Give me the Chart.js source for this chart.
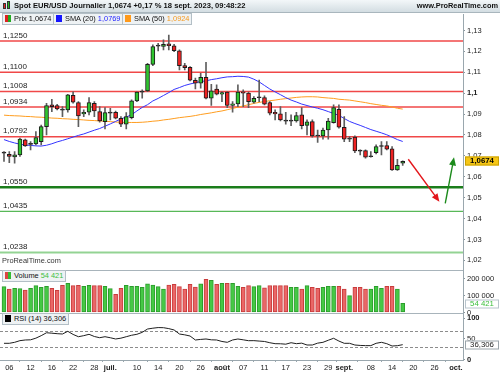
<!DOCTYPE html>
<html lang="fr">
<head>
<meta charset="utf-8">
<script src="https://cdn.jsdelivr.net/npm/chart.js@4.4.1/dist/chart.umd.min.js"></script>
<style>
  body { margin: 0; background: #fff; font-family: "Liberation Sans", Arial, sans-serif; }
  #wrap { position: relative; width: 500px; height: 375px; overflow: hidden; }
  #chart { position: absolute; left: 0; top: 0; }
  .top { position: absolute; left: 0; top: 0; width: 500px; height: 12px; background: linear-gradient(#f3f7f9, #d3dde2); border-bottom: 1px solid #a9b6bd; }
  .title { position: absolute; left: 14px; top: 0; font-size: 7.6px; font-weight: bold; line-height: 12px; color: #111; white-space: nowrap; }
  .site { position: absolute; right: 2px; top: 0; font-size: 7.4px; font-weight: bold; line-height: 12px; color: #111; }
  .ico { position: absolute; left: 2px; top: 1px; width: 10px; height: 10px; }
  .ico i { position: absolute; width: 3px; border: 1px solid #333; box-sizing: border-box; }
  .box { position: absolute; height: 10px; border: 1px solid #b3bfc6; background: #eef2f4; font-size: 7.4px; line-height: 10px; color: #111; white-space: nowrap; padding-right: 2px; }
  .sq { display: inline-block; width: 6px; height: 7px; margin: 0 3px 0 2px; vertical-align: -1px; }
  .wm { position: absolute; left: 2px; top: 256px; font-size: 7.4px; color: #333; }
</style>
</head>
<body>
<div id="wrap">
  <canvas id="chart" width="500" height="375"></canvas>
  <div class="top">
    <div class="ico"><i style="left:1px;top:2px;height:6px;background:#e22"></i><i style="left:5px;top:0;height:8px;background:#2b2"></i></div>
    <div class="title">Spot EUR/USD Journalier 1,0674 +0,17 % 18 sept. 2023, 09:48:22</div>
    <div class="site">www.ProRealTime.com</div>
  </div>
  <div class="box" style="left:2px;top:13px;"><span class="sq" style="background:linear-gradient(90deg,#d22 50%,#2a2 50%)"></span>Prix <span id="vPrix"></span></div>
  <div class="box" style="left:53px;top:13px;"><span class="sq" style="background:#1515ff"></span>SMA (20) <span id="vSma20" style="color:#2323ff"></span></div>
  <div class="box" style="left:122px;top:13px;"><span class="sq" style="background:#ff9a1a"></span>SMA (50) <span id="vSma50" style="color:#f59a20"></span></div>
  <div class="wm">ProRealTime.com</div>
  <div class="box" style="left:2px;top:270px;"><span class="sq" style="background:linear-gradient(90deg,#d44 50%,#3b3 50%)"></span>Volume <span id="vVol" style="color:#3cbf3c"></span></div>
  <div class="box" style="left:2px;top:313px;"><span class="sq" style="background:#000"></span>RSI (14) <span id="vRsi"></span></div>
</div>
<script>
// ==================== données ====================
// séances du 5 juin au 18 sept. 2023 (index 0 = 5 juin)
const open  = [1.0713,1.0708,1.0695,1.0705,1.0777,1.0755,1.0757,1.0768,1.0840,1.0944,1.0941,1.0921,1.0920,1.0990,1.0955,1.0901,1.0909,1.0952,1.0912,1.0864,
               1.0905,1.0909,1.0880,1.0852,1.0883,1.0963,1.1005,1.1011,1.1138,1.1225,1.1224,1.1236,1.1227,1.1203,1.1132,1.1124,1.1062,1.1048,1.1076,1.0976,
               1.1020,1.0995,1.1005,1.0941,1.0949,1.1007,1.1000,1.0957,1.0978,1.0979,1.0955,1.0909,1.0901,1.0868,1.0866,1.0867,1.0896,1.0846,1.0864,1.0797,
               1.0796,1.0824,1.0859,1.0923,1.0837,1.0780,1.0790,1.0725,1.0725,1.0696,1.0716,1.0745,1.0749,1.0734,1.0633,1.0665];
const high  = [1.0721,1.0721,1.0721,1.0785,1.0781,1.0768,1.0816,1.0848,1.0952,1.0971,1.0947,1.0936,1.0995,1.1007,1.0960,1.0920,1.0979,1.0960,1.0936,1.0931,
               1.0928,1.0915,1.0888,1.0907,1.0968,1.1007,1.1016,1.1143,1.1231,1.1239,1.1255,1.1278,1.1234,1.1207,1.1143,1.1127,1.1072,1.1095,1.1148,1.1043,
               1.1040,1.1007,1.1007,1.0960,1.1040,1.1016,1.1005,1.0984,1.1063,1.0987,1.0960,1.0920,1.0936,1.0909,1.0896,1.0909,1.0931,1.0872,1.0872,1.0824,
               1.0833,1.0880,1.0944,1.0944,1.0888,1.0792,1.0796,1.0729,1.0729,1.0721,1.0753,1.0768,1.0768,1.0745,1.0684,1.0677];
const low   = [1.0673,1.0668,1.0665,1.0697,1.0745,1.0729,1.0753,1.0753,1.0800,1.0912,1.0920,1.0888,1.0909,1.0952,1.0840,1.0888,1.0896,1.0888,1.0861,1.0829,
               1.0872,1.0877,1.0840,1.0829,1.0877,1.0960,1.0976,1.1007,1.1132,1.1202,1.1207,1.1207,1.1199,1.1111,1.1111,1.1059,1.1020,1.1024,1.0973,1.0941,
               1.0992,1.0960,1.0931,1.0909,1.0936,1.0936,1.0931,1.0952,1.0960,1.0944,1.0896,1.0872,1.0867,1.0852,1.0845,1.0861,1.0829,1.0800,1.0790,1.0764,
               1.0780,1.0780,1.0856,1.0833,1.0768,1.0768,1.0716,1.0705,1.0689,1.0694,1.0710,1.0705,1.0729,1.0630,1.0630,1.0654];
const close = [1.0714,1.0697,1.0705,1.0781,1.0748,1.0757,1.0788,1.0840,1.0941,1.0936,1.0925,1.0919,1.0992,1.0957,1.0891,1.0909,1.0955,1.0915,1.0867,1.0907,
               1.0907,1.0880,1.0852,1.0888,1.0964,1.1005,1.1007,1.1138,1.1223,1.1227,1.1234,1.1227,1.1203,1.1132,1.1122,1.1062,1.1048,1.1076,1.0976,1.1011,
               1.0995,1.1003,1.0941,1.0949,1.1005,1.1000,1.0960,1.0976,1.0980,1.0947,1.0904,1.0901,1.0872,1.0866,1.0868,1.0893,1.0845,1.0863,1.0796,1.0795,
               1.0824,1.0867,1.0931,1.0837,1.0780,1.0782,1.0724,1.0723,1.0694,1.0697,1.0745,1.0746,1.0732,1.0633,1.0655,1.0674];
const sma20 = [1.0778,1.0769,1.0762,1.0756,1.0752,1.0750,1.0748,1.0747,1.0751,1.0758,1.0767,1.0774,1.0782,1.0790,1.0798,1.0805,1.0814,1.0823,1.0831,1.0842,
               1.0853,1.0865,1.0877,1.0886,1.0897,1.0915,1.0932,1.0945,1.0963,1.0975,1.0989,1.1003,1.1018,1.1027,1.1037,1.1044,1.1050,1.1056,1.1059,1.1065,
               1.1069,1.1074,1.1078,1.1079,1.1081,1.1080,1.1077,1.1067,1.1054,1.1037,1.1020,1.1006,1.0993,1.0979,1.0967,1.0958,1.0948,1.0941,1.0934,1.0928,
               1.0921,1.0912,1.0903,1.0894,1.0879,1.0865,1.0855,1.0846,1.0836,1.0826,1.0818,1.0810,1.0801,1.0790,1.0778,1.0769];
const sma50 = [1.0895,1.0893,1.0892,1.0891,1.0889,1.0888,1.0886,1.0885,1.0883,1.0881,1.0880,1.0878,1.0877,1.0875,1.0874,1.0872,1.0870,1.0869,1.0867,1.0866,
               1.0864,1.0862,1.0861,1.0860,1.0860,1.0860,1.0861,1.0863,1.0866,1.0868,1.0872,1.0875,1.0879,1.0883,1.0886,1.0889,1.0893,1.0898,1.0902,1.0906,
               1.0911,1.0915,1.0921,1.0927,1.0933,1.0939,1.0945,1.0951,1.0956,1.0960,1.0964,1.0967,1.0971,1.0974,1.0977,1.0980,1.0982,1.0983,1.0983,1.0982,
               1.0979,1.0977,1.0975,1.0971,1.0969,1.0967,1.0963,1.0959,1.0955,1.0950,1.0946,1.0942,1.0939,1.0934,1.0928,1.0924];
const volume = [152000,138000,142000,140000,132000,142000,158000,148000,154000,142000,131000,160000,172000,158000,160000,154000,160000,158000,158000,154000,
                140000,107000,142000,160000,154000,154000,148000,169000,162000,152000,138000,162000,166000,152000,138000,166000,150000,169000,195000,189000,
                166000,172000,172000,172000,154000,148000,158000,152000,158000,145000,158000,158000,158000,158000,148000,148000,138000,158000,148000,142000,
                148000,154000,154000,154000,138000,99000,148000,148000,138000,138000,154000,142000,154000,154000,138000,54421];
const rsi = [39.6,39.6,42,46,47.6,48,52,58,65,64,62.8,62,68.5,61,55.5,58,61.3,56,53.1,55.5,
             53,50,52,55.5,59,61.3,66,74,76,77.5,77.2,75,71.7,62,60,57.2,47.6,49,50,48,
             47.6,44,42,47.6,50,48,45.9,46,45,44,41,38.7,38.5,37.5,41,38.7,40,35.5,35.5,40,
             42,47,51.7,45,39.6,39.6,35.5,34.5,34,34,39.6,42,38.7,33.1,33.9,36.306];

// supports / résistances tracés sur le graphique
const levels = [1.1250, 1.1100, 1.1008, 1.0934, 1.0792, 1.0550, 1.0435, 1.0238];
const rsiBands = [70, 30];
// flèches de scénario (index de séance, cours)
const arrowX = [[76.05, 81.9], [83.0, 84.65]];
const arrowY = [[1.0684, 1.0481], [1.0473, 1.0693]];

// axes
const tickPos    = [1, 5, 9, 13, 17, 20, 25, 29, 33, 37, 41, 45, 49, 53, 57, 61, 64, 69, 73, 77, 81, 85];
const tickLabels = ['06','12','16','22','28','juil.','10','14','20','26','août','07','11','17','23','29','sept.','08','14','20','26','oct.'];
const priceTicks = [1.02,1.03,1.04,1.05,1.06,1.07,1.08,1.09,1.10,1.11,1.12,1.13];
const volTicks   = [0, 100000, 200000];
const rsiTicks   = [0, 50, 100];

// ==================== mise en forme ====================
const last = close.length - 1;
const fmt4 = v => v.toFixed(4).replace('.', ',');
const fmtPrice = v => String(+v.toFixed(2)).replace('.', ',');
const fmtVol = v => String(Math.round(v)).replace(/\B(?=(\d{3})+(?!\d))/g, ' ');
const fmtRsi = v => v.toFixed(3).replace('.', ',');

document.getElementById('vPrix').textContent = fmt4(close[last]);
document.getElementById('vSma20').textContent = fmt4(sma20[last]);
document.getElementById('vSma50').textContent = fmt4(sma50[last]);
document.getElementById('vVol').textContent = fmtVol(volume[last]);
document.getElementById('vRsi').textContent = fmtRsi(rsi[last]);

const GREEN = '#2fc42f', RED = '#ee2222';
const isDoji = i => Math.abs(close[i] - open[i]) < 0.00025;
const bodyColors = close.map((c, i) => isDoji(i) ? '#333' : (c >= open[i] ? GREEN : RED));
const volFill   = close.map((c, i) => c >= open[i] ? '#45c945' : '#ea6767');
const volBorder = close.map((c, i) => c >= open[i] ? '#2c9d2c' : '#c93c3c');

const levelStyle = [
  ['#f04848', 1.5], ['#f04848', 1.5], ['#f04848', 1.5], ['#f04848', 1.5], ['#f04848', 1.5],
  ['#1b7d1b', 2.5], ['#58b858', 1.2], ['#93d393', 2]
];

// valeur du tick courant (contexte scriptable)
const tickVal = c => (c && c.tick) ? c.tick.value : null;

// ==================== plugin de dessin ====================
const overlay = {
  id: 'overlay',
  beforeDatasetsDraw(chart) {
    const { ctx, chartArea: a, scales: { y, yVol, yRsi } } = chart;
    ctx.save();
    // séparateurs de panneaux
    ctx.strokeStyle = '#a8b4bb';
    ctx.lineWidth = 1;
    [yVol.top, yRsi.top].forEach(t => {
      const py = Math.round(t) + 0.5;
      ctx.beginPath(); ctx.moveTo(a.left, py); ctx.lineTo(a.right, py); ctx.stroke();
    });
    // bandes RSI
    ctx.setLineDash([3, 2]);
    ctx.strokeStyle = '#8c8c8c';
    rsiBands.forEach(v => {
      const py = Math.round(yRsi.getPixelForValue(v)) + 0.5;
      ctx.beginPath(); ctx.moveTo(a.left, py); ctx.lineTo(a.right, py); ctx.stroke();
    });
    ctx.setLineDash([]);
    // niveaux
    ctx.font = '8px "Liberation Sans", Arial, sans-serif';
    ctx.textBaseline = 'bottom';
    levels.forEach((v, i) => {
      const py = y.getPixelForValue(v);
      ctx.strokeStyle = levelStyle[i][0];
      ctx.lineWidth = levelStyle[i][1];
      ctx.beginPath(); ctx.moveTo(a.left, py); ctx.lineTo(a.right, py); ctx.stroke();
      ctx.fillStyle = '#222';
      ctx.fillText(fmt4(v), a.left + 3, py - 1.5);
    });
    ctx.restore();
  },
  afterDatasetsDraw(chart) {
    const { ctx, scales: { x, y } } = chart;
    const colors = ['#e3161b', '#1b8a1b'];
    ctx.save();
    arrowX.forEach((xs, i) => {
      const x0 = x.getPixelForValue(xs[0]), x1 = x.getPixelForValue(xs[1]);
      const y0 = y.getPixelForValue(arrowY[i][0]), y1 = y.getPixelForValue(arrowY[i][1]);
      const ang = Math.atan2(y1 - y0, x1 - x0);
      ctx.strokeStyle = colors[i];
      ctx.fillStyle = colors[i];
      ctx.lineWidth = 1.4;
      ctx.beginPath(); ctx.moveTo(x0, y0);
      ctx.lineTo(x1 - 5 * Math.cos(ang), y1 - 5 * Math.sin(ang)); ctx.stroke();
      ctx.beginPath();
      ctx.moveTo(x1, y1);
      ctx.lineTo(x1 - 8 * Math.cos(ang) + 3.5 * Math.sin(ang), y1 - 8 * Math.sin(ang) - 3.5 * Math.cos(ang));
      ctx.lineTo(x1 - 8 * Math.cos(ang) - 3.5 * Math.sin(ang), y1 - 8 * Math.sin(ang) + 3.5 * Math.cos(ang));
      ctx.closePath(); ctx.fill();
    });
    ctx.restore();
  },
  afterDraw(chart) {
    const { ctx, chartArea: a, scales: { y, yVol, yRsi } } = chart;
    const tag = (py, text, fill, stroke, color, bold) => {
      const t = Math.round(py) - 4.5;
      ctx.fillStyle = fill;
      ctx.fillRect(a.right + 2, t, 34, 9);
      ctx.strokeStyle = stroke;
      ctx.lineWidth = 1;
      ctx.strokeRect(a.right + 2.5, t + 0.5, 33, 8);
      ctx.fillStyle = color;
      ctx.font = (bold ? 'bold ' : '') + '7.8px "Liberation Sans", Arial, sans-serif';
      ctx.textBaseline = 'middle';
      ctx.textAlign = 'center';
      ctx.fillText(text, a.right + 19, t + 4.8);
    };
    ctx.save();
    tag(y.getPixelForValue(close[last]), fmt4(close[last]), '#f6c616', '#c9a000', '#000', true);
    tag(yVol.getPixelForValue(volume[last]) + 1, fmtVol(volume[last]), '#fff', '#b8c4cc', '#3cbf3c', false);
    tag(yRsi.getPixelForValue(rsi[last]), fmtRsi(rsi[last]), '#fff', '#9aa4aa', '#222', false);
    ctx.restore();
  }
};

// ==================== graphique ====================
Chart.defaults.font.family = '"Liberation Sans", Arial, sans-serif';
Chart.defaults.font.size = 7.5;
Chart.defaults.color = '#222';

const rightAxis = (extra) => Object.assign({
  position: 'right',
  stack: 'panes',
  bounds: 'data',
  afterFit: s => { s.width = 37; s.paddingTop = 0; s.paddingBottom = 0; },
  grid: { display: true, drawOnChartArea: false, tickLength: 2, color: '#8a959b' },
  border: { display: true, color: '#9aa7ae' }
}, extra);

new Chart(document.getElementById('chart'), {
  type: 'bar',
  data: {
    datasets: [
      {
        label: 'mèches', yAxisID: 'y', grouped: false, order: 2,
        data: high.map((h, i) => ({ x: i, y: [low[i], h] })),
        barThickness: 1, backgroundColor: '#5e5e5e'
      },
      {
        label: 'corps', yAxisID: 'y', grouped: false, order: 1,
        data: open.map((o, i) => ({ x: i, y: [o, close[i]] })),
        barThickness: 4, minBarLength: 1,
        backgroundColor: bodyColors, borderColor: '#1c1c1c', borderWidth: 1, borderSkipped: false
      },
      {
        type: 'line', label: 'SMA (20)', yAxisID: 'y', order: 3,
        data: sma20.map((v, i) => ({ x: i, y: v })),
        borderColor: '#3434ff', borderWidth: 1, pointRadius: 0, tension: 0
      },
      {
        type: 'line', label: 'SMA (50)', yAxisID: 'y', order: 3,
        data: sma50.map((v, i) => ({ x: i, y: v })),
        borderColor: '#ff9d1f', borderWidth: 1, pointRadius: 0, tension: 0
      },
      {
        label: 'Volume', yAxisID: 'yVol', grouped: false, order: 1,
        data: volume.map((v, i) => ({ x: i, y: v })),
        barThickness: 4, backgroundColor: volFill, borderColor: volBorder, borderWidth: 1, borderSkipped: false
      },
      {
        type: 'line', label: 'RSI (14)', yAxisID: 'yRsi', order: 1,
        data: rsi.map((v, i) => ({ x: i, y: v })),
        borderColor: '#1e1e1e', borderWidth: 1, pointRadius: 0, tension: 0
      }
    ]
  },
  options: {
    responsive: false,
    animation: false,
    devicePixelRatio: 1,
    layout: { padding: { top: 14, left: 0, right: 0, bottom: 0 } },
    plugins: { legend: { display: false }, tooltip: { enabled: false } },
    scales: {
      x: {
        type: 'linear', min: -0.75, max: 86.34, offset: false, bounds: 'data',
        afterBuildTicks: s => { s.ticks = tickPos.map(v => ({ value: v })); },
        afterFit: s => { s.height = 15; s.paddingLeft = 0; s.paddingRight = 0; },
        ticks: {
          autoSkip: false, maxRotation: 0, padding: 1, color: '#222',
          font: c => ({ size: 7.5, weight: (c && c.index != null && /[a-zû]/.test(tickLabels[c.index] || '')) ? 'bold' : 'normal' }),
          callback: (v, i) => tickLabels[i]
        },
        grid: { display: true, drawOnChartArea: false, tickLength: 2, color: '#9aa7ae' },
        border: { display: true, color: '#9aa7ae' }
      },
      y: rightAxis({
        stackWeight: 255.5, min: 1.01565, max: 1.13789,
        afterBuildTicks: s => { s.ticks = priceTicks.map(v => ({ value: v })); },
        ticks: {
          autoSkip: false, padding: 2, color: '#222',
          font: c => ({ size: 7.5, weight: (tickVal(c) !== null && Math.abs(tickVal(c) - 1.1) < 1e-6) ? 'bold' : 'normal' }),
          callback: v => fmtPrice(v)
        }
      }),
      yVol: rightAxis({
        stackWeight: 43.5, min: -3000, max: 253000,
        afterBuildTicks: s => { s.ticks = volTicks.map(v => ({ value: v })); },
        ticks: { autoSkip: false, padding: 2, color: '#222', callback: v => fmtVol(v) }
      }),
      yRsi: rightAxis({
        stackWeight: 47, min: -0.6, max: 112.6,
        afterBuildTicks: s => { s.ticks = rsiTicks.map(v => ({ value: v })); },
        ticks: {
          autoSkip: false, padding: 2, color: '#222',
          font: c => ({ size: 7.5, weight: (tickVal(c) === 0 || tickVal(c) === 100) ? 'bold' : 'normal' }),
          callback: v => String(v)
        }
      })
    }
  },
  plugins: [overlay]
});
</script>
</body>
</html>
